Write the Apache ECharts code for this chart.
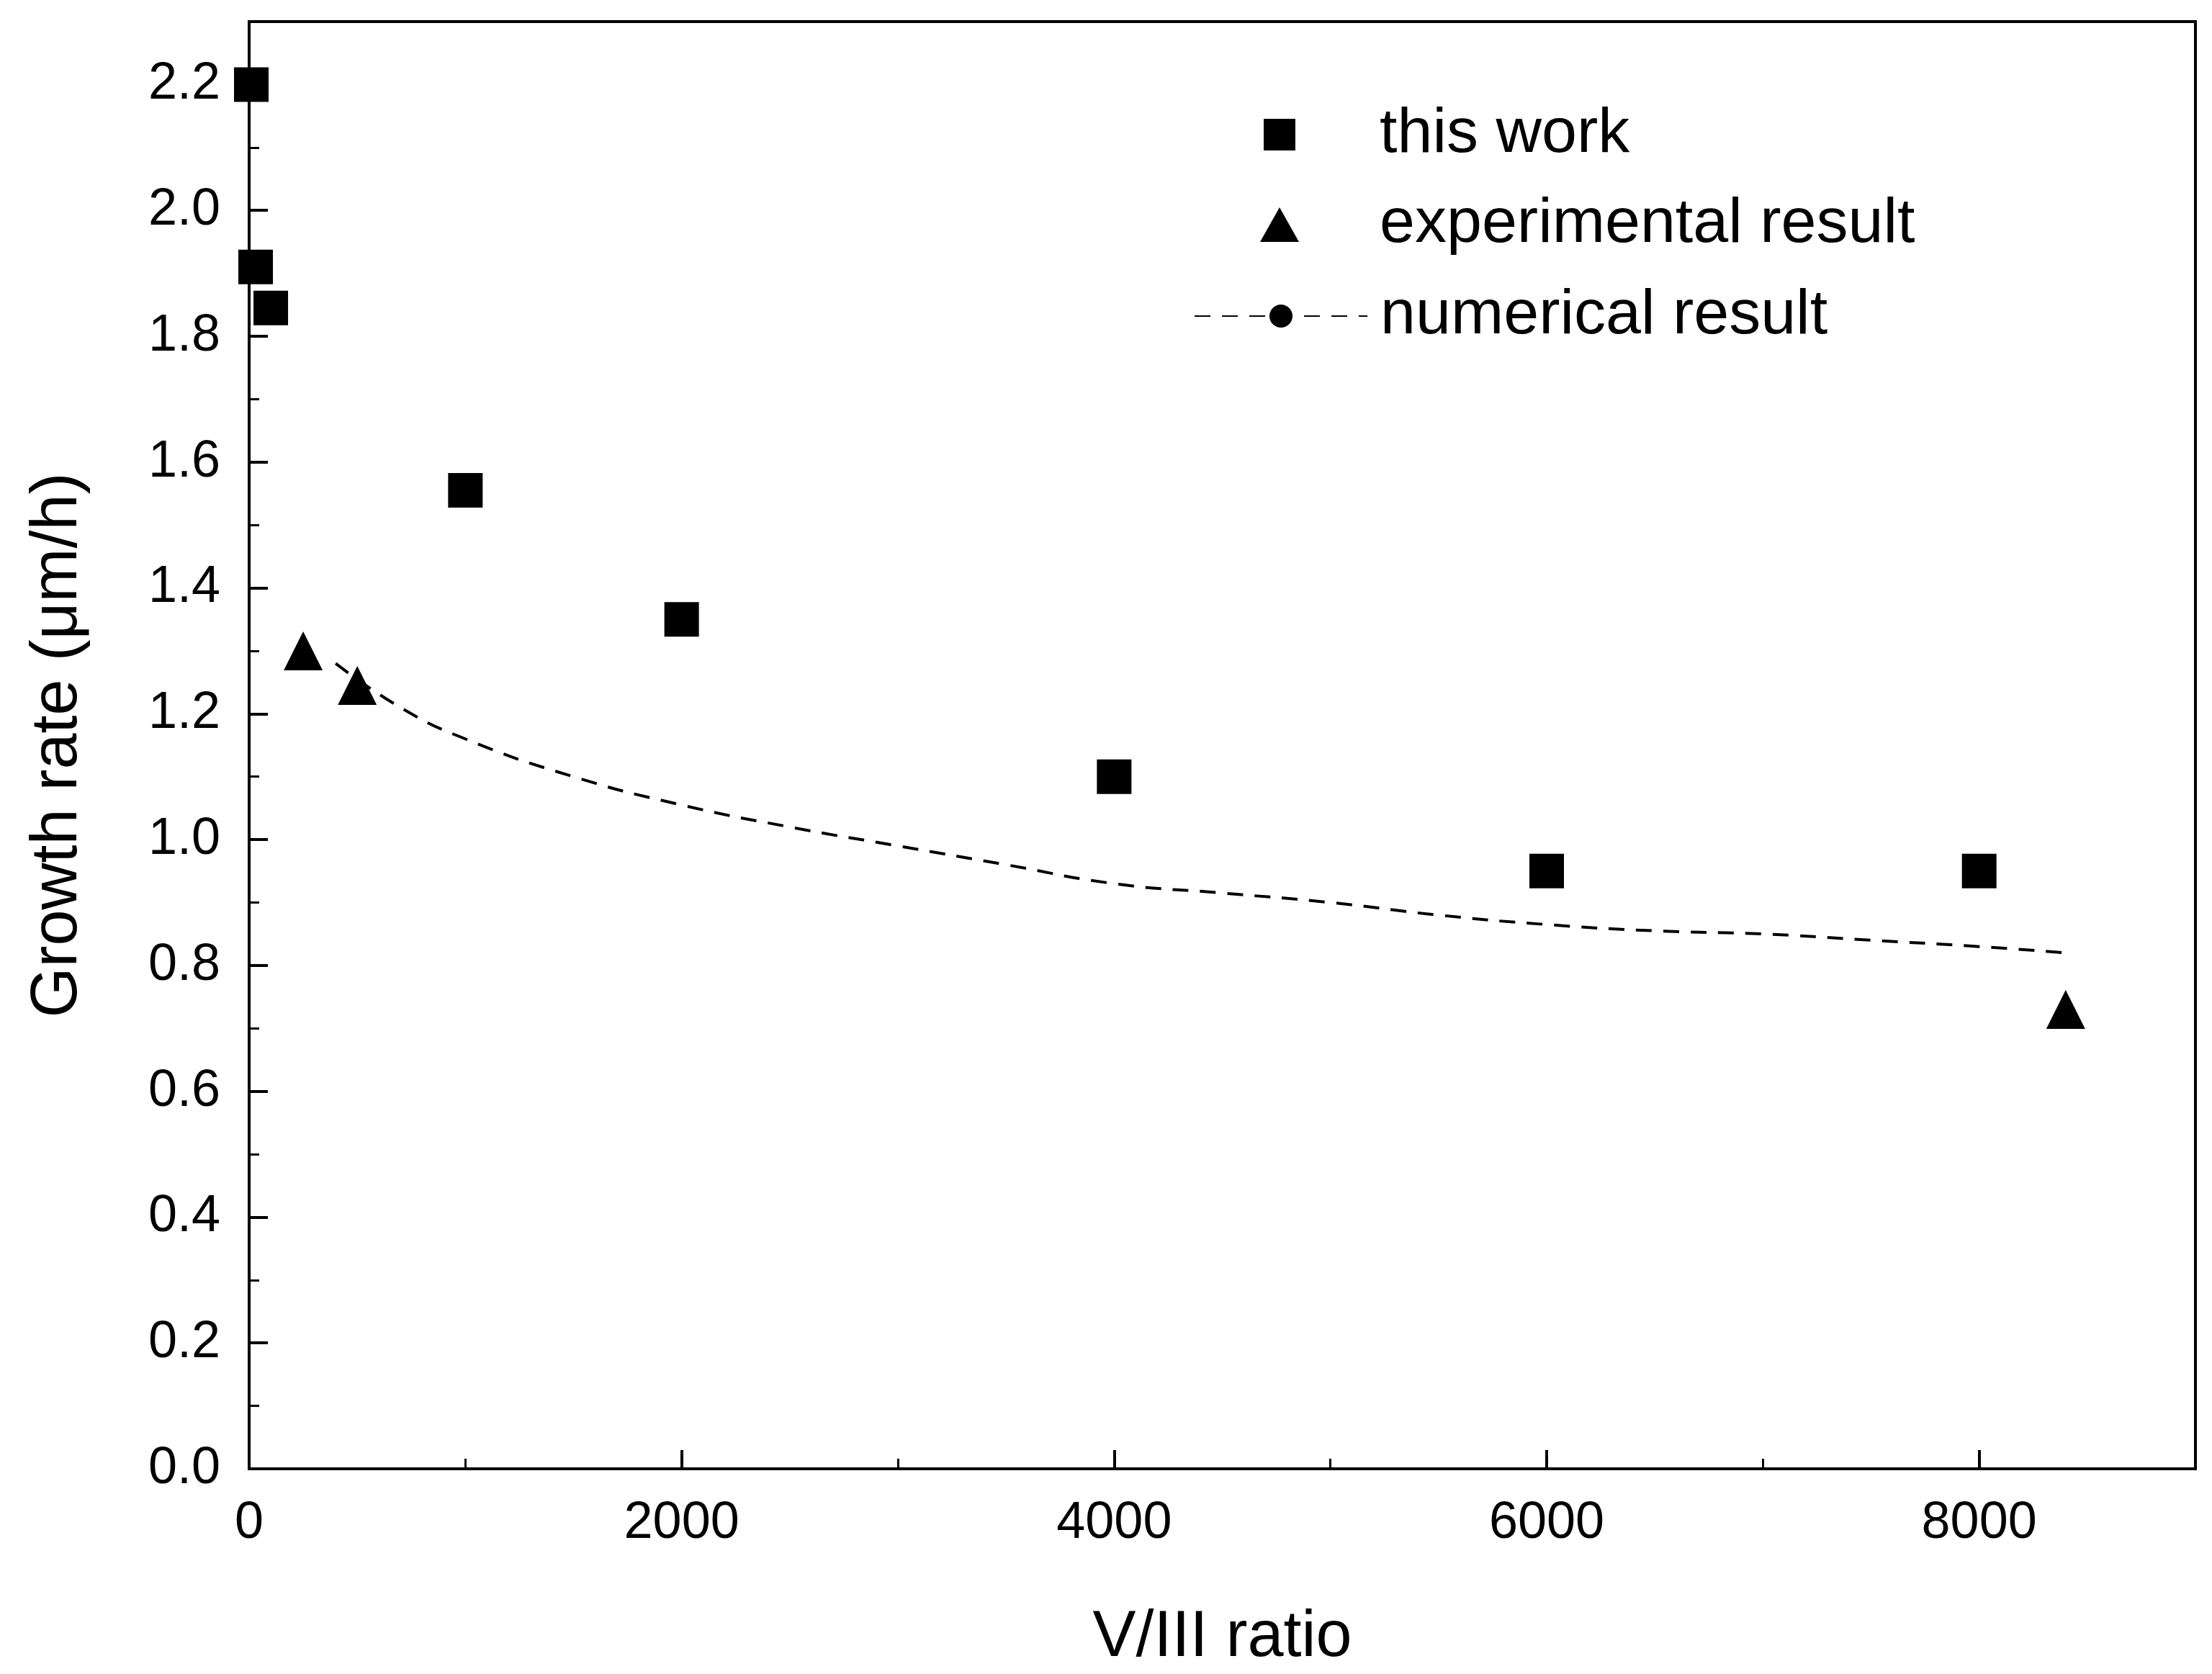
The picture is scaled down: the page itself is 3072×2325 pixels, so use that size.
<!DOCTYPE html>
<html>
<head>
<meta charset="utf-8">
<script src="https://cdn.jsdelivr.net/npm/echarts@6/dist/echarts.min.js"></script>
<style>html,body{margin:0;background:#fff}#main{width:3072px;height:2325px}</style>
</head>
<body>
<div id="main"></div>
<script>
/* === data === */
const workX = [10, 30, 100, 1000, 2000, 4000, 6000, 8000];
const workY = [2.2, 1.91, 1.845, 1.555, 1.35, 1.10, 0.95, 0.95];
const expX = [250, 500, 8400];
const expY = [1.30, 1.245, 0.73];
const numX = [400, 700, 1000, 1500, 2000, 2500, 3000, 3500, 4000, 4500, 5000, 5500, 6000, 6500, 7000, 7500, 8000, 8400];
const numY = [1.28, 1.21, 1.16, 1.10, 1.055, 1.02, 0.99, 0.96, 0.93, 0.915, 0.90, 0.88, 0.865, 0.855, 0.85, 0.84, 0.83, 0.82];

const zip = (xs, ys) => xs.map((x, i) => [x, ys[i]]);
const FONT = 'Arial, "Liberation Sans", sans-serif';

// one legend per entry so each can have its own icon size
function legendItem(name, top, left, w, h, pad) {
  return {
    orient: 'vertical', left, top, itemWidth: w, itemHeight: h,
    textStyle: { fontSize: 88, color: '#000', fontFamily: FONT, padding: [0, 0, 0, pad] },
    data: [name]
  };
}

const chart = echarts.init(document.getElementById('main'));
chart.setOption({
  animation: false,
  backgroundColor: '#fff',
  grid: { left: 346, right: 23, top: 30, bottom: 280, show: true, borderColor: '#000', borderWidth: 4 },
  legend: [
    legendItem('this work', 138, 1750, 44, 44, 112),
    legendItem('experimental result', 263, 1745, 54, 48, 107),
    legendItem('numerical result', 390, 1653, 240, 40, 13)
  ],
  xAxis: {
    type: 'value', min: 0, max: 9000, interval: 2000,
    name: 'V/III ratio', nameLocation: 'middle', nameGap: 190,
    nameTextStyle: { fontSize: 90, color: '#000', fontFamily: FONT },
    axisLine: { lineStyle: { color: '#000', width: 4 } },
    axisTick: { inside: true, length: 26, lineStyle: { width: 4, color: '#000' } },
    minorTick: { show: true, splitNumber: 2, length: 14, lineStyle: { width: 3, color: '#000' } },
    axisLabel: { fontSize: 72, color: '#000', fontFamily: FONT, margin: 40, showMaxLabel: false, formatter: v => String(v) },
    splitLine: { show: false }
  },
  yAxis: {
    type: 'value', min: 0, max: 2.3, interval: 0.2,
    name: 'Growth rate (μm/h)', nameLocation: 'middle', nameGap: 220,
    nameTextStyle: { fontSize: 90, color: '#000', fontFamily: FONT },
    axisLine: { lineStyle: { color: '#000', width: 4 } },
    axisTick: { inside: true, length: 26, lineStyle: { width: 4, color: '#000' } },
    minorTick: { show: true, splitNumber: 2, length: 14, lineStyle: { width: 3, color: '#000' } },
    axisLabel: { fontSize: 72, color: '#000', fontFamily: FONT, margin: 40, formatter: v => v.toFixed(1), showMaxLabel: false },
    splitLine: { show: false }
  },
  series: [
    {
      name: 'this work', type: 'scatter', symbol: 'rect', symbolSize: 48,
      itemStyle: { color: '#000', opacity: 1 }, data: zip(workX, workY)
    },
    {
      name: 'experimental result', type: 'scatter', symbol: 'triangle', symbolSize: 54,
      itemStyle: { color: '#000', opacity: 1 }, data: zip(expX, expY)
    },
    {
      name: 'numerical result', type: 'line', showSymbol: false, symbol: 'none', symbolSize: 0, smooth: true,
      lineStyle: { color: '#000', width: 4, type: [22, 16] },
      itemStyle: { color: '#000' }, data: zip(numX, numY)
    }
  ]
});
</script>
</body>
</html>
